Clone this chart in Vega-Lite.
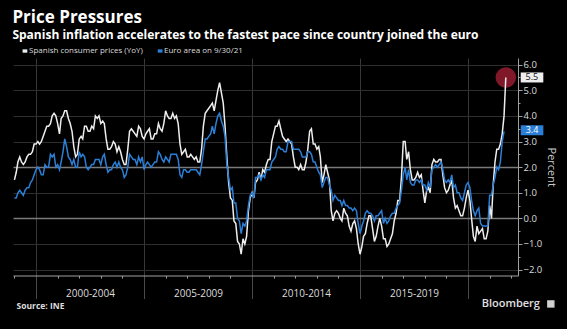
{
  "$schema": "https://vega.github.io/schema/vega-lite/v6.json",
  "width": 505,
  "height": 217.5,
  "autosize": "none",
  "padding": {"left": 13, "top": 58, "right": 49, "bottom": 53.5},
  "background": "#000000",
  "config": {"font": "Open Sans", "view": {"stroke": null}},
  "title": {
    "text": "Price Pressures",
    "subtitle": "Spanish inflation accelerates to the fastest pace since country joined the euro",
    "anchor": "start",
    "font": "Open Sans",
    "subtitleFont": "Open Sans",
    "color": "#ffffff",
    "subtitleColor": "#ffffff",
    "fontSize": 17,
    "fontWeight": "bold",
    "subtitleFontSize": 12,
    "subtitleFontWeight": "bold",
    "subtitlePadding": 3,
    "offset": 5,
    "dx": 1
  },
  "datasets": {
    "cpi": [
      {"date":"1999-01","series":"ES","value":1.5},{"date":"1999-02","series":"ES","value":1.8},{"date":"1999-03","series":"ES","value":2.2},{"date":"1999-04","series":"ES","value":2.4},{"date":"1999-05","series":"ES","value":2.2},{"date":"1999-06","series":"ES","value":2.1},{"date":"1999-07","series":"ES","value":2.2},{"date":"1999-08","series":"ES","value":2.4},{"date":"1999-09","series":"ES","value":2.5},{"date":"1999-10","series":"ES","value":2.5},{"date":"1999-11","series":"ES","value":2.6},{"date":"1999-12","series":"ES","value":2.9},
      {"date":"2000-01","series":"ES","value":2.9},{"date":"2000-02","series":"ES","value":3.0},{"date":"2000-03","series":"ES","value":2.9},{"date":"2000-04","series":"ES","value":3.0},{"date":"2000-05","series":"ES","value":3.2},{"date":"2000-06","series":"ES","value":3.4},{"date":"2000-07","series":"ES","value":3.6},{"date":"2000-08","series":"ES","value":3.6},{"date":"2000-09","series":"ES","value":3.7},{"date":"2000-10","series":"ES","value":4.0},{"date":"2000-11","series":"ES","value":4.1},{"date":"2000-12","series":"ES","value":4.0},
      {"date":"2001-01","series":"ES","value":3.7},{"date":"2001-02","series":"ES","value":3.3},{"date":"2001-03","series":"ES","value":3.9},{"date":"2001-04","series":"ES","value":4.0},{"date":"2001-05","series":"ES","value":4.2},{"date":"2001-06","series":"ES","value":4.2},{"date":"2001-07","series":"ES","value":3.9},{"date":"2001-08","series":"ES","value":3.7},{"date":"2001-09","series":"ES","value":3.4},{"date":"2001-10","series":"ES","value":2.8},{"date":"2001-11","series":"ES","value":2.4},{"date":"2001-12","series":"ES","value":2.5},
      {"date":"2002-01","series":"ES","value":3.1},{"date":"2002-02","series":"ES","value":3.2},{"date":"2002-03","series":"ES","value":3.1},{"date":"2002-04","series":"ES","value":3.6},{"date":"2002-05","series":"ES","value":3.6},{"date":"2002-06","series":"ES","value":3.4},{"date":"2002-07","series":"ES","value":3.4},{"date":"2002-08","series":"ES","value":3.6},{"date":"2002-09","series":"ES","value":3.5},{"date":"2002-10","series":"ES","value":4.0},{"date":"2002-11","series":"ES","value":3.9},{"date":"2002-12","series":"ES","value":4.0},
      {"date":"2003-01","series":"ES","value":3.7},{"date":"2003-02","series":"ES","value":3.8},{"date":"2003-03","series":"ES","value":3.7},{"date":"2003-04","series":"ES","value":3.1},{"date":"2003-05","series":"ES","value":2.7},{"date":"2003-06","series":"ES","value":2.7},{"date":"2003-07","series":"ES","value":2.8},{"date":"2003-08","series":"ES","value":3.0},{"date":"2003-09","series":"ES","value":2.9},{"date":"2003-10","series":"ES","value":2.6},{"date":"2003-11","series":"ES","value":2.8},{"date":"2003-12","series":"ES","value":2.6},
      {"date":"2004-01","series":"ES","value":2.3},{"date":"2004-02","series":"ES","value":2.1},{"date":"2004-03","series":"ES","value":2.1},{"date":"2004-04","series":"ES","value":2.7},{"date":"2004-05","series":"ES","value":3.4},{"date":"2004-06","series":"ES","value":3.5},{"date":"2004-07","series":"ES","value":3.4},{"date":"2004-08","series":"ES","value":3.3},{"date":"2004-09","series":"ES","value":3.2},{"date":"2004-10","series":"ES","value":3.6},{"date":"2004-11","series":"ES","value":3.5},{"date":"2004-12","series":"ES","value":3.2},
      {"date":"2005-01","series":"ES","value":3.1},{"date":"2005-02","series":"ES","value":3.3},{"date":"2005-03","series":"ES","value":3.4},{"date":"2005-04","series":"ES","value":3.5},{"date":"2005-05","series":"ES","value":3.1},{"date":"2005-06","series":"ES","value":3.1},{"date":"2005-07","series":"ES","value":3.3},{"date":"2005-08","series":"ES","value":3.3},{"date":"2005-09","series":"ES","value":3.7},{"date":"2005-10","series":"ES","value":3.5},{"date":"2005-11","series":"ES","value":3.4},{"date":"2005-12","series":"ES","value":3.7},
      {"date":"2006-01","series":"ES","value":4.2},{"date":"2006-02","series":"ES","value":4.0},{"date":"2006-03","series":"ES","value":3.9},{"date":"2006-04","series":"ES","value":3.9},{"date":"2006-05","series":"ES","value":4.1},{"date":"2006-06","series":"ES","value":3.9},{"date":"2006-07","series":"ES","value":4.0},{"date":"2006-08","series":"ES","value":3.7},{"date":"2006-09","series":"ES","value":2.9},{"date":"2006-10","series":"ES","value":2.5},{"date":"2006-11","series":"ES","value":2.6},{"date":"2006-12","series":"ES","value":2.7},
      {"date":"2007-01","series":"ES","value":2.4},{"date":"2007-02","series":"ES","value":2.4},{"date":"2007-03","series":"ES","value":2.5},{"date":"2007-04","series":"ES","value":2.4},{"date":"2007-05","series":"ES","value":2.3},{"date":"2007-06","series":"ES","value":2.4},{"date":"2007-07","series":"ES","value":2.2},{"date":"2007-08","series":"ES","value":2.2},{"date":"2007-09","series":"ES","value":2.7},{"date":"2007-10","series":"ES","value":3.6},{"date":"2007-11","series":"ES","value":4.1},{"date":"2007-12","series":"ES","value":4.2},
      {"date":"2008-01","series":"ES","value":4.3},{"date":"2008-02","series":"ES","value":4.4},{"date":"2008-03","series":"ES","value":4.5},{"date":"2008-04","series":"ES","value":4.2},{"date":"2008-05","series":"ES","value":4.6},{"date":"2008-06","series":"ES","value":5.0},{"date":"2008-07","series":"ES","value":5.3},{"date":"2008-08","series":"ES","value":4.9},{"date":"2008-09","series":"ES","value":4.5},{"date":"2008-10","series":"ES","value":3.6},{"date":"2008-11","series":"ES","value":2.4},{"date":"2008-12","series":"ES","value":1.4},
      {"date":"2009-01","series":"ES","value":0.8},{"date":"2009-02","series":"ES","value":0.7},{"date":"2009-03","series":"ES","value":-0.1},{"date":"2009-04","series":"ES","value":-0.2},{"date":"2009-05","series":"ES","value":-0.9},{"date":"2009-06","series":"ES","value":-1.0},{"date":"2009-07","series":"ES","value":-1.4},{"date":"2009-08","series":"ES","value":-0.8},{"date":"2009-09","series":"ES","value":-1.0},{"date":"2009-10","series":"ES","value":-0.7},{"date":"2009-11","series":"ES","value":0.3},{"date":"2009-12","series":"ES","value":0.8},
      {"date":"2010-01","series":"ES","value":1.0},{"date":"2010-02","series":"ES","value":0.8},{"date":"2010-03","series":"ES","value":1.4},{"date":"2010-04","series":"ES","value":1.5},{"date":"2010-05","series":"ES","value":1.8},{"date":"2010-06","series":"ES","value":1.5},{"date":"2010-07","series":"ES","value":1.9},{"date":"2010-08","series":"ES","value":1.8},{"date":"2010-09","series":"ES","value":2.1},{"date":"2010-10","series":"ES","value":2.3},{"date":"2010-11","series":"ES","value":2.3},{"date":"2010-12","series":"ES","value":3.0},
      {"date":"2011-01","series":"ES","value":3.3},{"date":"2011-02","series":"ES","value":3.6},{"date":"2011-03","series":"ES","value":3.6},{"date":"2011-04","series":"ES","value":3.8},{"date":"2011-05","series":"ES","value":3.5},{"date":"2011-06","series":"ES","value":3.2},{"date":"2011-07","series":"ES","value":3.1},{"date":"2011-08","series":"ES","value":3.0},{"date":"2011-09","series":"ES","value":3.1},{"date":"2011-10","series":"ES","value":3.0},{"date":"2011-11","series":"ES","value":2.9},{"date":"2011-12","series":"ES","value":2.4},
      {"date":"2012-01","series":"ES","value":2.0},{"date":"2012-02","series":"ES","value":2.0},{"date":"2012-03","series":"ES","value":1.9},{"date":"2012-04","series":"ES","value":2.1},{"date":"2012-05","series":"ES","value":1.9},{"date":"2012-06","series":"ES","value":1.9},{"date":"2012-07","series":"ES","value":2.2},{"date":"2012-08","series":"ES","value":2.7},{"date":"2012-09","series":"ES","value":3.4},{"date":"2012-10","series":"ES","value":3.5},{"date":"2012-11","series":"ES","value":2.9},{"date":"2012-12","series":"ES","value":2.9},
      {"date":"2013-01","series":"ES","value":2.7},{"date":"2013-02","series":"ES","value":2.8},{"date":"2013-03","series":"ES","value":2.4},{"date":"2013-04","series":"ES","value":1.4},{"date":"2013-05","series":"ES","value":1.7},{"date":"2013-06","series":"ES","value":2.1},{"date":"2013-07","series":"ES","value":1.8},{"date":"2013-08","series":"ES","value":1.5},{"date":"2013-09","series":"ES","value":0.3},{"date":"2013-10","series":"ES","value":-0.1},{"date":"2013-11","series":"ES","value":0.2},{"date":"2013-12","series":"ES","value":0.3},
      {"date":"2014-01","series":"ES","value":0.2},{"date":"2014-02","series":"ES","value":0.0},{"date":"2014-03","series":"ES","value":-0.1},{"date":"2014-04","series":"ES","value":0.4},{"date":"2014-05","series":"ES","value":0.2},{"date":"2014-06","series":"ES","value":0.1},{"date":"2014-07","series":"ES","value":-0.3},{"date":"2014-08","series":"ES","value":-0.5},{"date":"2014-09","series":"ES","value":-0.2},{"date":"2014-10","series":"ES","value":-0.1},{"date":"2014-11","series":"ES","value":-0.4},{"date":"2014-12","series":"ES","value":-1.0},
      {"date":"2015-01","series":"ES","value":-1.4},{"date":"2015-02","series":"ES","value":-1.1},{"date":"2015-03","series":"ES","value":-0.7},{"date":"2015-04","series":"ES","value":-0.6},{"date":"2015-05","series":"ES","value":-0.2},{"date":"2015-06","series":"ES","value":0.1},{"date":"2015-07","series":"ES","value":0.1},{"date":"2015-08","series":"ES","value":-0.4},{"date":"2015-09","series":"ES","value":-0.9},{"date":"2015-10","series":"ES","value":-0.7},{"date":"2015-11","series":"ES","value":-0.3},{"date":"2015-12","series":"ES","value":0.0},
      {"date":"2016-01","series":"ES","value":-0.3},{"date":"2016-02","series":"ES","value":-0.8},{"date":"2016-03","series":"ES","value":-0.8},{"date":"2016-04","series":"ES","value":-1.1},{"date":"2016-05","series":"ES","value":-1.0},{"date":"2016-06","series":"ES","value":-0.8},{"date":"2016-07","series":"ES","value":-0.6},{"date":"2016-08","series":"ES","value":-0.1},{"date":"2016-09","series":"ES","value":0.2},{"date":"2016-10","series":"ES","value":0.7},{"date":"2016-11","series":"ES","value":0.7},{"date":"2016-12","series":"ES","value":1.6},
      {"date":"2017-01","series":"ES","value":3.0},{"date":"2017-02","series":"ES","value":3.0},{"date":"2017-03","series":"ES","value":2.3},{"date":"2017-04","series":"ES","value":2.6},{"date":"2017-05","series":"ES","value":1.9},{"date":"2017-06","series":"ES","value":1.5},{"date":"2017-07","series":"ES","value":1.5},{"date":"2017-08","series":"ES","value":1.6},{"date":"2017-09","series":"ES","value":1.8},{"date":"2017-10","series":"ES","value":1.6},{"date":"2017-11","series":"ES","value":1.7},{"date":"2017-12","series":"ES","value":1.1},
      {"date":"2018-01","series":"ES","value":0.6},{"date":"2018-02","series":"ES","value":1.1},{"date":"2018-03","series":"ES","value":1.2},{"date":"2018-04","series":"ES","value":1.0},{"date":"2018-05","series":"ES","value":2.1},{"date":"2018-06","series":"ES","value":2.3},{"date":"2018-07","series":"ES","value":2.2},{"date":"2018-08","series":"ES","value":2.2},{"date":"2018-09","series":"ES","value":2.3},{"date":"2018-10","series":"ES","value":2.3},{"date":"2018-11","series":"ES","value":1.7},{"date":"2018-12","series":"ES","value":1.2},
      {"date":"2019-01","series":"ES","value":1.0},{"date":"2019-02","series":"ES","value":1.1},{"date":"2019-03","series":"ES","value":1.3},{"date":"2019-04","series":"ES","value":1.5},{"date":"2019-05","series":"ES","value":0.8},{"date":"2019-06","series":"ES","value":0.4},{"date":"2019-07","series":"ES","value":0.5},{"date":"2019-08","series":"ES","value":0.3},{"date":"2019-09","series":"ES","value":0.1},{"date":"2019-10","series":"ES","value":0.1},{"date":"2019-11","series":"ES","value":0.4},{"date":"2019-12","series":"ES","value":0.8},
      {"date":"2020-01","series":"ES","value":1.1},{"date":"2020-02","series":"ES","value":0.7},{"date":"2020-03","series":"ES","value":0.0},{"date":"2020-04","series":"ES","value":-0.7},{"date":"2020-05","series":"ES","value":-0.9},{"date":"2020-06","series":"ES","value":-0.3},{"date":"2020-07","series":"ES","value":-0.6},{"date":"2020-08","series":"ES","value":-0.5},{"date":"2020-09","series":"ES","value":-0.4},{"date":"2020-10","series":"ES","value":-0.8},{"date":"2020-11","series":"ES","value":-0.8},{"date":"2020-12","series":"ES","value":-0.5},
      {"date":"2021-01","series":"ES","value":0.5},{"date":"2021-02","series":"ES","value":0.0},{"date":"2021-03","series":"ES","value":1.3},{"date":"2021-04","series":"ES","value":2.2},{"date":"2021-05","series":"ES","value":2.7},{"date":"2021-06","series":"ES","value":2.7},{"date":"2021-07","series":"ES","value":2.9},{"date":"2021-08","series":"ES","value":3.3},{"date":"2021-09","series":"ES","value":4.0},{"date":"2021-10","series":"ES","value":5.5},
      {"date":"1999-01","series":"EA","value":0.8},{"date":"1999-02","series":"EA","value":0.8},{"date":"1999-03","series":"EA","value":1.0},{"date":"1999-04","series":"EA","value":1.1},{"date":"1999-05","series":"EA","value":1.0},{"date":"1999-06","series":"EA","value":0.9},{"date":"1999-07","series":"EA","value":1.1},{"date":"1999-08","series":"EA","value":1.2},{"date":"1999-09","series":"EA","value":1.2},{"date":"1999-10","series":"EA","value":1.4},{"date":"1999-11","series":"EA","value":1.5},{"date":"1999-12","series":"EA","value":1.7},
      {"date":"2000-01","series":"EA","value":1.9},{"date":"2000-02","series":"EA","value":2.0},{"date":"2000-03","series":"EA","value":1.9},{"date":"2000-04","series":"EA","value":1.7},{"date":"2000-05","series":"EA","value":1.7},{"date":"2000-06","series":"EA","value":2.1},{"date":"2000-07","series":"EA","value":2.0},{"date":"2000-08","series":"EA","value":2.0},{"date":"2000-09","series":"EA","value":2.5},{"date":"2000-10","series":"EA","value":2.4},{"date":"2000-11","series":"EA","value":2.5},{"date":"2000-12","series":"EA","value":2.0},
      {"date":"2001-01","series":"EA","value":2.1},{"date":"2001-02","series":"EA","value":1.9},{"date":"2001-03","series":"EA","value":2.2},{"date":"2001-04","series":"EA","value":2.6},{"date":"2001-05","series":"EA","value":3.1},{"date":"2001-06","series":"EA","value":2.8},{"date":"2001-07","series":"EA","value":2.4},{"date":"2001-08","series":"EA","value":2.3},{"date":"2001-09","series":"EA","value":2.1},{"date":"2001-10","series":"EA","value":2.3},{"date":"2001-11","series":"EA","value":2.0},{"date":"2001-12","series":"EA","value":2.0},
      {"date":"2002-01","series":"EA","value":2.6},{"date":"2002-02","series":"EA","value":2.4},{"date":"2002-03","series":"EA","value":2.5},{"date":"2002-04","series":"EA","value":2.4},{"date":"2002-05","series":"EA","value":2.0},{"date":"2002-06","series":"EA","value":1.9},{"date":"2002-07","series":"EA","value":2.0},{"date":"2002-08","series":"EA","value":2.1},{"date":"2002-09","series":"EA","value":2.1},{"date":"2002-10","series":"EA","value":2.3},{"date":"2002-11","series":"EA","value":2.3},{"date":"2002-12","series":"EA","value":2.3},
      {"date":"2003-01","series":"EA","value":2.1},{"date":"2003-02","series":"EA","value":2.4},{"date":"2003-03","series":"EA","value":2.5},{"date":"2003-04","series":"EA","value":2.1},{"date":"2003-05","series":"EA","value":1.8},{"date":"2003-06","series":"EA","value":1.9},{"date":"2003-07","series":"EA","value":1.9},{"date":"2003-08","series":"EA","value":2.1},{"date":"2003-09","series":"EA","value":2.2},{"date":"2003-10","series":"EA","value":2.0},{"date":"2003-11","series":"EA","value":2.2},{"date":"2003-12","series":"EA","value":2.0},
      {"date":"2004-01","series":"EA","value":1.9},{"date":"2004-02","series":"EA","value":1.6},{"date":"2004-03","series":"EA","value":1.7},{"date":"2004-04","series":"EA","value":2.0},{"date":"2004-05","series":"EA","value":2.5},{"date":"2004-06","series":"EA","value":2.4},{"date":"2004-07","series":"EA","value":2.3},{"date":"2004-08","series":"EA","value":2.3},{"date":"2004-09","series":"EA","value":2.1},{"date":"2004-10","series":"EA","value":2.4},{"date":"2004-11","series":"EA","value":2.2},{"date":"2004-12","series":"EA","value":2.4},
      {"date":"2005-01","series":"EA","value":1.9},{"date":"2005-02","series":"EA","value":2.1},{"date":"2005-03","series":"EA","value":2.2},{"date":"2005-04","series":"EA","value":2.1},{"date":"2005-05","series":"EA","value":2.0},{"date":"2005-06","series":"EA","value":2.1},{"date":"2005-07","series":"EA","value":2.2},{"date":"2005-08","series":"EA","value":2.2},{"date":"2005-09","series":"EA","value":2.6},{"date":"2005-10","series":"EA","value":2.5},{"date":"2005-11","series":"EA","value":2.3},{"date":"2005-12","series":"EA","value":2.2},
      {"date":"2006-01","series":"EA","value":2.4},{"date":"2006-02","series":"EA","value":2.3},{"date":"2006-03","series":"EA","value":2.2},{"date":"2006-04","series":"EA","value":2.5},{"date":"2006-05","series":"EA","value":2.5},{"date":"2006-06","series":"EA","value":2.5},{"date":"2006-07","series":"EA","value":2.5},{"date":"2006-08","series":"EA","value":2.3},{"date":"2006-09","series":"EA","value":1.7},{"date":"2006-10","series":"EA","value":1.6},{"date":"2006-11","series":"EA","value":1.9},{"date":"2006-12","series":"EA","value":1.9},
      {"date":"2007-01","series":"EA","value":1.8},{"date":"2007-02","series":"EA","value":1.8},{"date":"2007-03","series":"EA","value":1.9},{"date":"2007-04","series":"EA","value":1.9},{"date":"2007-05","series":"EA","value":1.9},{"date":"2007-06","series":"EA","value":1.9},{"date":"2007-07","series":"EA","value":1.8},{"date":"2007-08","series":"EA","value":1.7},{"date":"2007-09","series":"EA","value":2.1},{"date":"2007-10","series":"EA","value":2.6},{"date":"2007-11","series":"EA","value":3.1},{"date":"2007-12","series":"EA","value":3.1},
      {"date":"2008-01","series":"EA","value":3.2},{"date":"2008-02","series":"EA","value":3.3},{"date":"2008-03","series":"EA","value":3.6},{"date":"2008-04","series":"EA","value":3.3},{"date":"2008-05","series":"EA","value":3.7},{"date":"2008-06","series":"EA","value":4.0},{"date":"2008-07","series":"EA","value":4.1},{"date":"2008-08","series":"EA","value":3.8},{"date":"2008-09","series":"EA","value":3.6},{"date":"2008-10","series":"EA","value":3.2},{"date":"2008-11","series":"EA","value":2.1},{"date":"2008-12","series":"EA","value":1.6},
      {"date":"2009-01","series":"EA","value":1.1},{"date":"2009-02","series":"EA","value":1.2},{"date":"2009-03","series":"EA","value":0.6},{"date":"2009-04","series":"EA","value":0.6},{"date":"2009-05","series":"EA","value":0.0},{"date":"2009-06","series":"EA","value":-0.1},{"date":"2009-07","series":"EA","value":-0.6},{"date":"2009-08","series":"EA","value":-0.2},{"date":"2009-09","series":"EA","value":-0.3},{"date":"2009-10","series":"EA","value":-0.1},{"date":"2009-11","series":"EA","value":0.5},{"date":"2009-12","series":"EA","value":0.9},
      {"date":"2010-01","series":"EA","value":1.0},{"date":"2010-02","series":"EA","value":0.8},{"date":"2010-03","series":"EA","value":1.6},{"date":"2010-04","series":"EA","value":1.6},{"date":"2010-05","series":"EA","value":1.7},{"date":"2010-06","series":"EA","value":1.5},{"date":"2010-07","series":"EA","value":1.7},{"date":"2010-08","series":"EA","value":1.6},{"date":"2010-09","series":"EA","value":1.9},{"date":"2010-10","series":"EA","value":1.9},{"date":"2010-11","series":"EA","value":1.9},{"date":"2010-12","series":"EA","value":2.2},
      {"date":"2011-01","series":"EA","value":2.3},{"date":"2011-02","series":"EA","value":2.4},{"date":"2011-03","series":"EA","value":2.7},{"date":"2011-04","series":"EA","value":2.8},{"date":"2011-05","series":"EA","value":2.7},{"date":"2011-06","series":"EA","value":2.7},{"date":"2011-07","series":"EA","value":2.6},{"date":"2011-08","series":"EA","value":2.6},{"date":"2011-09","series":"EA","value":3.0},{"date":"2011-10","series":"EA","value":3.0},{"date":"2011-11","series":"EA","value":3.0},{"date":"2011-12","series":"EA","value":2.7},
      {"date":"2012-01","series":"EA","value":2.7},{"date":"2012-02","series":"EA","value":2.7},{"date":"2012-03","series":"EA","value":2.7},{"date":"2012-04","series":"EA","value":2.6},{"date":"2012-05","series":"EA","value":2.4},{"date":"2012-06","series":"EA","value":2.4},{"date":"2012-07","series":"EA","value":2.4},{"date":"2012-08","series":"EA","value":2.6},{"date":"2012-09","series":"EA","value":2.6},{"date":"2012-10","series":"EA","value":2.5},{"date":"2012-11","series":"EA","value":2.2},{"date":"2012-12","series":"EA","value":2.2},
      {"date":"2013-01","series":"EA","value":2.0},{"date":"2013-02","series":"EA","value":1.8},{"date":"2013-03","series":"EA","value":1.7},{"date":"2013-04","series":"EA","value":1.2},{"date":"2013-05","series":"EA","value":1.4},{"date":"2013-06","series":"EA","value":1.6},{"date":"2013-07","series":"EA","value":1.6},{"date":"2013-08","series":"EA","value":1.3},{"date":"2013-09","series":"EA","value":1.1},{"date":"2013-10","series":"EA","value":0.7},{"date":"2013-11","series":"EA","value":0.9},{"date":"2013-12","series":"EA","value":0.8},
      {"date":"2014-01","series":"EA","value":0.7},{"date":"2014-02","series":"EA","value":0.7},{"date":"2014-03","series":"EA","value":0.5},{"date":"2014-04","series":"EA","value":0.7},{"date":"2014-05","series":"EA","value":0.5},{"date":"2014-06","series":"EA","value":0.5},{"date":"2014-07","series":"EA","value":0.4},{"date":"2014-08","series":"EA","value":0.4},{"date":"2014-09","series":"EA","value":0.3},{"date":"2014-10","series":"EA","value":0.4},{"date":"2014-11","series":"EA","value":0.3},{"date":"2014-12","series":"EA","value":-0.2},
      {"date":"2015-01","series":"EA","value":-0.6},{"date":"2015-02","series":"EA","value":-0.3},{"date":"2015-03","series":"EA","value":-0.1},{"date":"2015-04","series":"EA","value":0.2},{"date":"2015-05","series":"EA","value":0.3},{"date":"2015-06","series":"EA","value":0.2},{"date":"2015-07","series":"EA","value":0.2},{"date":"2015-08","series":"EA","value":0.1},{"date":"2015-09","series":"EA","value":-0.1},{"date":"2015-10","series":"EA","value":0.1},{"date":"2015-11","series":"EA","value":0.1},{"date":"2015-12","series":"EA","value":0.2},
      {"date":"2016-01","series":"EA","value":0.3},{"date":"2016-02","series":"EA","value":-0.2},{"date":"2016-03","series":"EA","value":0.0},{"date":"2016-04","series":"EA","value":-0.2},{"date":"2016-05","series":"EA","value":-0.1},{"date":"2016-06","series":"EA","value":0.1},{"date":"2016-07","series":"EA","value":0.2},{"date":"2016-08","series":"EA","value":0.2},{"date":"2016-09","series":"EA","value":0.4},{"date":"2016-10","series":"EA","value":0.5},{"date":"2016-11","series":"EA","value":0.6},{"date":"2016-12","series":"EA","value":1.1},
      {"date":"2017-01","series":"EA","value":1.7},{"date":"2017-02","series":"EA","value":2.0},{"date":"2017-03","series":"EA","value":1.5},{"date":"2017-04","series":"EA","value":1.9},{"date":"2017-05","series":"EA","value":1.4},{"date":"2017-06","series":"EA","value":1.3},{"date":"2017-07","series":"EA","value":1.3},{"date":"2017-08","series":"EA","value":1.5},{"date":"2017-09","series":"EA","value":1.5},{"date":"2017-10","series":"EA","value":1.4},{"date":"2017-11","series":"EA","value":1.5},{"date":"2017-12","series":"EA","value":1.3},
      {"date":"2018-01","series":"EA","value":1.3},{"date":"2018-02","series":"EA","value":1.1},{"date":"2018-03","series":"EA","value":1.4},{"date":"2018-04","series":"EA","value":1.2},{"date":"2018-05","series":"EA","value":1.9},{"date":"2018-06","series":"EA","value":2.0},{"date":"2018-07","series":"EA","value":2.1},{"date":"2018-08","series":"EA","value":2.0},{"date":"2018-09","series":"EA","value":2.1},{"date":"2018-10","series":"EA","value":2.2},{"date":"2018-11","series":"EA","value":1.9},{"date":"2018-12","series":"EA","value":1.5},
      {"date":"2019-01","series":"EA","value":1.4},{"date":"2019-02","series":"EA","value":1.5},{"date":"2019-03","series":"EA","value":1.4},{"date":"2019-04","series":"EA","value":1.7},{"date":"2019-05","series":"EA","value":1.2},{"date":"2019-06","series":"EA","value":1.3},{"date":"2019-07","series":"EA","value":1.0},{"date":"2019-08","series":"EA","value":1.0},{"date":"2019-09","series":"EA","value":0.8},{"date":"2019-10","series":"EA","value":0.7},{"date":"2019-11","series":"EA","value":1.0},{"date":"2019-12","series":"EA","value":1.3},
      {"date":"2020-01","series":"EA","value":1.4},{"date":"2020-02","series":"EA","value":1.2},{"date":"2020-03","series":"EA","value":0.7},{"date":"2020-04","series":"EA","value":0.3},{"date":"2020-05","series":"EA","value":0.1},{"date":"2020-06","series":"EA","value":0.3},{"date":"2020-07","series":"EA","value":0.4},{"date":"2020-08","series":"EA","value":-0.2},{"date":"2020-09","series":"EA","value":-0.3},{"date":"2020-10","series":"EA","value":-0.3},{"date":"2020-11","series":"EA","value":-0.3},{"date":"2020-12","series":"EA","value":-0.3},
      {"date":"2021-01","series":"EA","value":0.9},{"date":"2021-02","series":"EA","value":0.9},{"date":"2021-03","series":"EA","value":1.3},{"date":"2021-04","series":"EA","value":1.6},{"date":"2021-05","series":"EA","value":2.0},{"date":"2021-06","series":"EA","value":1.9},{"date":"2021-07","series":"EA","value":2.2},{"date":"2021-08","series":"EA","value":3.0},{"date":"2021-09","series":"EA","value":3.4}
    ]
  },
  "data": {"name": "cpi", "format": {"parse": {"date": "date"}}},
  "encoding": {
    "x": {
      "field": "date",
      "type": "temporal",
      "scale": {"type": "utc", "domain": [{"year": 1998, "month": 12, "date": 8, "utc": true}, {"year": 2022, "month": 4, "date": 25, "utc": true}]},
      "axis": {
        "values": [{"year": 1999, "utc": true}, {"year": 2000, "utc": true}, {"year": 2001, "utc": true}, {"year": 2002, "utc": true}, {"year": 2003, "utc": true}, {"year": 2004, "utc": true}, {"year": 2005, "utc": true}, {"year": 2006, "utc": true}, {"year": 2007, "utc": true}, {"year": 2008, "utc": true}, {"year": 2009, "utc": true}, {"year": 2010, "utc": true}, {"year": 2011, "utc": true}, {"year": 2012, "utc": true}, {"year": 2013, "utc": true}, {"year": 2014, "utc": true}, {"year": 2015, "utc": true}, {"year": 2016, "utc": true}, {"year": 2017, "utc": true}, {"year": 2018, "utc": true}, {"year": 2019, "utc": true}, {"year": 2020, "utc": true}, {"year": 2021, "utc": true}, {"year": 2022, "utc": true}],
        "labelExpr": "utcyear(datum.value) % 5 == 0 && utcyear(datum.value) < 2020 ? utcyear(datum.value) + '-' + (utcyear(datum.value) + 4) : ''",
        "labelOffset": 54,
        "labelAlign": "center",
        "labelPadding": -10,
        "labelFontSize": 10,
        "labelColor": "#dddddd",
        "labelFlush": false,
        "labelOverlap": false,
        "labelBound": false,
        "domainColor": "#a0a0a0",
        "tickColor": {"condition": {"test": "utcyear(datum.value) % 5 == 0", "value": "#4a4a4a"}, "value": "#a0a0a0"},
        "tickSize": {"condition": {"test": "utcyear(datum.value) % 5 == 0", "value": 23}, "value": 2.5},
        "grid": true,
        "gridColor": "#383838",
        "gridOpacity": {"condition": {"test": "utcyear(datum.value) % 5 == 0", "value": 1}, "value": 0},
        "title": "Source: INE",
        "titleAnchor": "start",
        "titleAlign": "left",
        "titleX": 3,
        "titleY": 33,
        "titleBaseline": "alphabetic",
        "titleFontSize": 8.5,
        "titleFontWeight": "bold",
        "titleColor": "#dddddd"
      }
    },
    "y": {
      "field": "value",
      "type": "quantitative",
      "scale": {"domain": [-2.23, 6.26], "nice": false, "zero": false},
      "axis": {
        "orient": "right",
        "values": [-2, -1.5, -1, -0.5, 0, 0.5, 1, 1.5, 2, 2.5, 3, 3.5, 4, 4.5, 5, 5.5, 6],
        "labelExpr": "datum.value % 1 == 0 ? format(datum.value, '.1f') : ''",
        "labelColor": "#dddddd",
        "labelFontSize": 9.5,
        "labelPadding": 1,
        "labelOverlap": false,
        "labelFlush": false,
        "labelBound": false,
        "domainColor": "#a0a0a0",
        "tickColor": "#a0a0a0",
        "tickSize": {"condition": {"test": "datum.value % 1 == 0", "value": 4}, "value": 2},
        "grid": true,
        "gridColor": {"condition": {"test": "datum.value == 0 || datum.value == 2", "value": "#7a7a7a"}, "value": "#2e2e2e"},
        "gridWidth": {"condition": {"test": "datum.value == 0 || datum.value == 2", "value": 1.5}, "value": 1},
        "gridOpacity": {"condition": {"test": "datum.value % 1 != 0", "value": 0}, "value": 1},
        "title": "Percent",
        "titleAngle": 90,
        "titleColor": "#cccccc",
        "titleFontSize": 11,
        "titleFontWeight": "normal",
        "titlePadding": 4
      }
    }
  },
  "layer": [
    {
      "transform": [{"filter": "datum.series == 'ES' && utcyear(datum.date) == 2021 && utcmonth(datum.date) == 9"}],
      "mark": {"type": "point", "shape": "circle", "filled": true, "size": 420, "color": "#8e1b2e", "opacity": 0.9}
    },
    {
      "mark": {"type": "line", "strokeWidth": 1.5, "interpolate": "linear"},
      "encoding": {
        "color": {
          "field": "series",
          "type": "nominal",
          "scale": {"domain": ["ES", "EA"], "range": ["#eeeeee", "#2b7fd6"]},
          "legend": {
            "orient": "none",
            "legendX": 5,
            "legendY": -11,
            "direction": "horizontal",
            "title": null,
            "padding": 0,
            "symbolType": "square",
            "symbolSize": 5,
            "symbolStrokeWidth": 2.2,
            "labelColor": "#dddddd",
            "labelFontSize": 8,
            "labelOffset": 3,
            "columnPadding": 10,
            "labelExpr": "datum.label == 'ES' ? 'Spanish consumer prices (YoY)' : 'Euro area on 9/30/21'"
          }
        }
      }
    },
    {
      "transform": [{"filter": "utcyear(datum.date) == 2021 && ((datum.series == 'ES' && utcmonth(datum.date) == 9) || (datum.series == 'EA' && utcmonth(datum.date) == 8))"}],
      "mark": {"type": "point", "filled": true, "size": 400, "opacity": 1},
      "encoding": {
        "color": {"field": "series", "type": "nominal"},
        "shape": {"field": "series", "type": "nominal", "scale": {"domain": ["ES", "EA"], "range": ["M1.49,-0.5H3.75V0.5H1.49Z", "M1.67,-0.6H3.93V0.4H1.67Z"]}, "legend": null}
      }
    },
    {
      "transform": [{"filter": "utcyear(datum.date) == 2021 && ((datum.series == 'ES' && utcmonth(datum.date) == 9) || (datum.series == 'EA' && utcmonth(datum.date) == 8))"}],
      "mark": {"type": "text", "fontSize": 9, "align": "center", "baseline": "middle", "dx": {"expr": "datum.series == 'ES' ? 26 : 28"}, "dy": {"expr": "datum.series == 'ES' ? 0 : -1"}},
      "encoding": {
        "text": {"field": "value", "type": "quantitative", "format": ".1f"},
        "color": {"condition": {"test": "datum.series == 'ES'", "value": "#111111"}, "value": "#ffffff"}
      }
    },
    {
      "transform": [{"filter": "datum.series == 'ES' && utcyear(datum.date) == 2021 && utcmonth(datum.date) == 9"}],
      "mark": {"type": "text", "fontSize": 11, "fontWeight": 600, "align": "right", "baseline": "middle", "color": "#e0e0e0"},
      "encoding": {
        "x": {"datum": {"year": 2023, "month": 5, "date": 1, "utc": true}, "type": "temporal"},
        "y": {"datum": -3.34, "type": "quantitative"},
        "text": {"value": "Bloomberg"}
      }
    },
    {
      "transform": [{"filter": "datum.series == 'ES' && utcyear(datum.date) == 2021 && utcmonth(datum.date) == 9"}],
      "mark": {"type": "point", "shape": "square", "filled": true, "size": 55, "color": "#d0d0d0", "opacity": 1},
      "encoding": {
        "x": {"datum": {"year": 2023, "month": 11, "date": 1, "utc": true}, "type": "temporal"},
        "y": {"datum": -3.34, "type": "quantitative"}
      }
    }
  ]
}
